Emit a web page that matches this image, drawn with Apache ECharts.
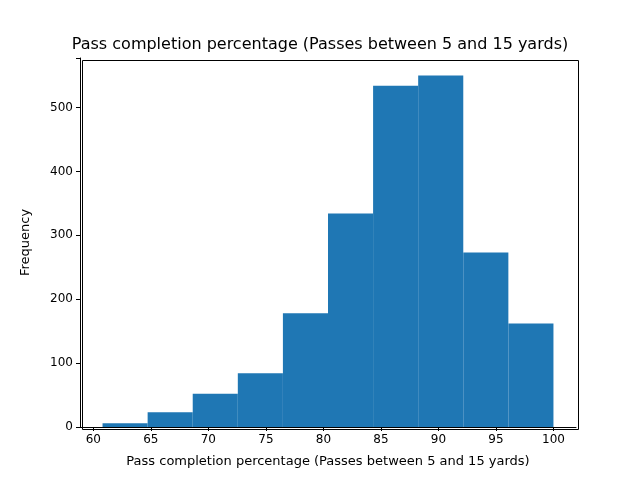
<!DOCTYPE html>
<html lang="en">
<head>
  <meta charset="UTF-8">
  <title>Pass completion histogram</title>
  <style>
    html, body { margin: 0; padding: 0; background: #fff; }
    #chart { width: 640px; height: 480px; }
  </style>
  <script src="https://cdn.jsdelivr.net/npm/echarts@6/dist/echarts.min.js"></script>
</head>
<body>
  <div id="chart"></div>
  <script>
    // bin edges and counts
    const binEdges = [60.8, 64.72, 68.64, 72.56, 76.48, 80.4, 84.32, 88.24, 92.16, 96.08, 100];
    const counts = [6, 23, 52, 84, 178, 334, 534, 550, 273, 162];
    const xTicks = [60, 65, 70, 75, 80, 85, 90, 95, 100];

    const bins = counts.map((c, i) => [binEdges[i], binEdges[i + 1], c]);

    const chart = echarts.init(document.getElementById('chart'));
    const font = 'DejaVu Sans';

    chart.setOption({
      animation: false,
      title: {
        text: 'Pass completion percentage (Passes between 5 and 15 yards)',
        left: 'center', top: 32,
        textStyle: { fontFamily: font, fontSize: 16, fontWeight: 'normal', color: '#000' }
      },
      grid: { left: 80, right: 64, top: 58, bottom: 53 },
      xAxis: {
        type: 'value', min: 58.84, max: 101.96,
        name: 'Pass completion percentage (Passes between 5 and 15 yards)',
        nameLocation: 'middle', nameGap: 28,
        nameTextStyle: { fontFamily: font, fontSize: 13, color: '#000' },
        axisLine: { onZero: false, lineStyle: { color: '#000' } },
        axisTick: { show: true, customValues: xTicks, length: 4, lineStyle: { color: '#000' } },
        axisLabel: { customValues: xTicks, fontFamily: font, fontSize: 12, color: '#000', margin: 7 },
        splitLine: { show: false }
      },
      yAxis: {
        type: 'value', min: 0, max: 577.5, interval: 100,
        name: 'Frequency', nameLocation: 'middle', nameGap: 48,
        nameTextStyle: { fontFamily: font, fontSize: 13, color: '#000' },
        axisLine: { show: true, lineStyle: { color: '#000' } },
        axisTick: { show: true, length: 4, lineStyle: { color: '#000' } },
        axisLabel: { fontFamily: font, fontSize: 12, color: '#000', margin: 7,
          formatter: v => (v % 100 === 0 ? v : '') },
        splitLine: { show: false }
      },
      series: [{
        type: 'custom',
        data: bins,
        encode: { x: [0, 1], y: 2 },
        renderItem: (params, api) => {
          const p0 = api.coord([api.value(0), api.value(2)]);
          const p1 = api.coord([api.value(1), 0]);
          return {
            type: 'rect',
            shape: { x: p0[0], y: p0[1], width: p1[0] - p0[0], height: p1[1] - p0[1] },
            style: { fill: '#1f77b4' }
          };
        }
      }],
      graphic: [{
        type: 'rect', left: 80, top: 58,
        shape: { width: 496, height: 369 },
        style: { fill: 'none', stroke: '#000', lineWidth: 1 }, silent: true
      }]
    });
  </script>
</body>
</html>
